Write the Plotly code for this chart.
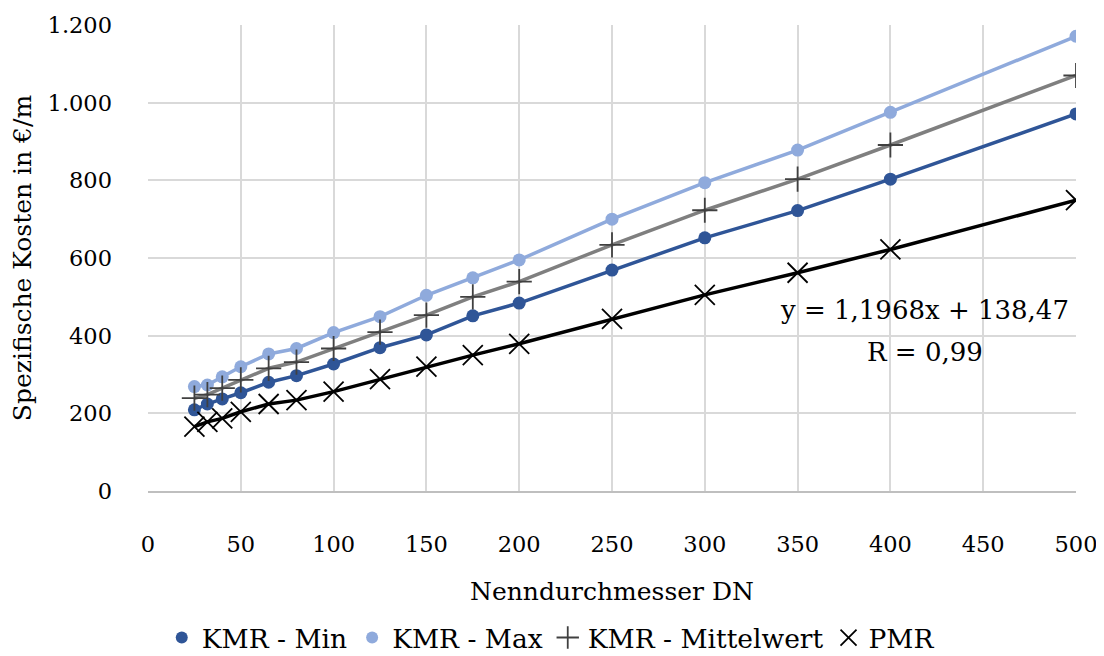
import plotly.graph_objects as go

dn = [25, 32, 40, 50, 65, 80, 100, 125, 150, 175, 200, 250, 300, 350, 400, 500]
kmr_min = [209, 224, 237, 253, 280, 297, 327, 369, 402, 451, 484, 569, 652, 722, 803, 971]
kmr_max = [269, 273, 294, 320, 353, 367, 408, 449, 504, 549, 595, 700, 794, 878, 975, 1171]
kmr_mittel = [239, 248, 265, 286, 316, 332, 367, 409, 453, 500, 539, 634, 723, 803, 891, 1070]
pmr = [166, 178, 187, 204, 224, 234, 256, 288, 320, 350, 379, 443, 505, 562, 622, 749]

x_ticks = [0, 50, 100, 150, 200, 250, 300, 350, 400, 450, 500]
y_ticks = [0, 200, 400, 600, 800, 1000, 1200]
y_tick_labels = ["0", "200", "400", "600", "800", "1.000", "1.200"]

FONT = "DejaVu Serif, Liberation Serif, serif"
FS_TICK = 22.5
FS_TEXT = 25
FS_LEGEND = 26.5

series = [
    ("KMR - Min", kmr_min, "#2F5597", dict(symbol="circle", size=13, color="#2F5597")),
    ("KMR - Max", kmr_max, "#8FAADC", dict(symbol="circle", size=13, color="#8FAADC")),
    ("KMR - Mittelwert", kmr_mittel, "#7F7F7F",
     dict(symbol="cross-thin", size=18, color="#404040", line=dict(color="#404040", width=1.8))),
    ("PMR", pmr, "#000000",
     dict(symbol="x-thin", size=20, color="#000000", line=dict(color="#000000", width=1.8))),
]

fig = go.Figure()
for name, vals, lc, mk in series:
    fig.add_trace(go.Scatter(
        x=dn, y=vals, name=name, mode="lines+markers", showlegend=False,
        line=dict(color=lc, width=3.5), marker=mk))
# legend entries: markers only
for name, vals, lc, mk in series:
    lm = dict(mk)
    lm["size"] = 12 if lm["symbol"] == "circle" else 17
    fig.add_trace(go.Scatter(
        x=[None], y=[None], name=name, mode="markers", showlegend=True, marker=lm))

fig.add_annotation(
    x=418.6, y=466, xref="x", yref="y", text="y = 1,1968x + 138,47",
    showarrow=False, font=dict(family=FONT, size=FS_TEXT + 1, color="#000000"))
fig.add_annotation(
    x=418.6, y=358, xref="x", yref="y", text="R = 0,99",
    showarrow=False, font=dict(family=FONT, size=FS_TEXT + 1, color="#000000"))

# page body has an 8px offset; figure is sized so the plot lands where the reference has it
fig.update_layout(
    width=1096, height=648,
    margin=dict(l=140, r=28, t=17, b=165, autoexpand=False),
    paper_bgcolor="white", plot_bgcolor="white",
    font=dict(family=FONT, size=FS_TEXT, color="#000000"),
    showlegend=True,
    legend=dict(orientation="h", x=0.434, xanchor="center",
                y=-0.315, yanchor="middle",
                font=dict(family=FONT, size=FS_LEGEND), itemwidth=30, tracegroupgap=0),
)
fig.update_xaxes(
    range=[0, 500], tickvals=x_ticks, ticktext=[str(v) for v in x_ticks],
    tickfont=dict(family=FONT, size=FS_TICK),
    showgrid=True, gridcolor="#D9D9D9", gridwidth=2,
    showline=True, linecolor="#BFBFBF", linewidth=2,
    zeroline=False, ticks="", ticklabelstandoff=32, automargin=False,
    title=dict(text="Nenndurchmesser DN", standoff=26, font=dict(family=FONT, size=FS_TEXT)))
fig.update_yaxes(
    range=[0, 1200], tickvals=y_ticks, ticktext=y_tick_labels,
    tickfont=dict(family=FONT, size=FS_TICK),
    showgrid=True, gridcolor="#D9D9D9", gridwidth=2,
    showline=False, zeroline=False, ticks="", ticklabelstandoff=35, automargin=False,
    title=dict(text="Spezifische Kosten in €/m", standoff=18, font=dict(family=FONT, size=FS_TEXT)))

fig.write_html("out.html")
